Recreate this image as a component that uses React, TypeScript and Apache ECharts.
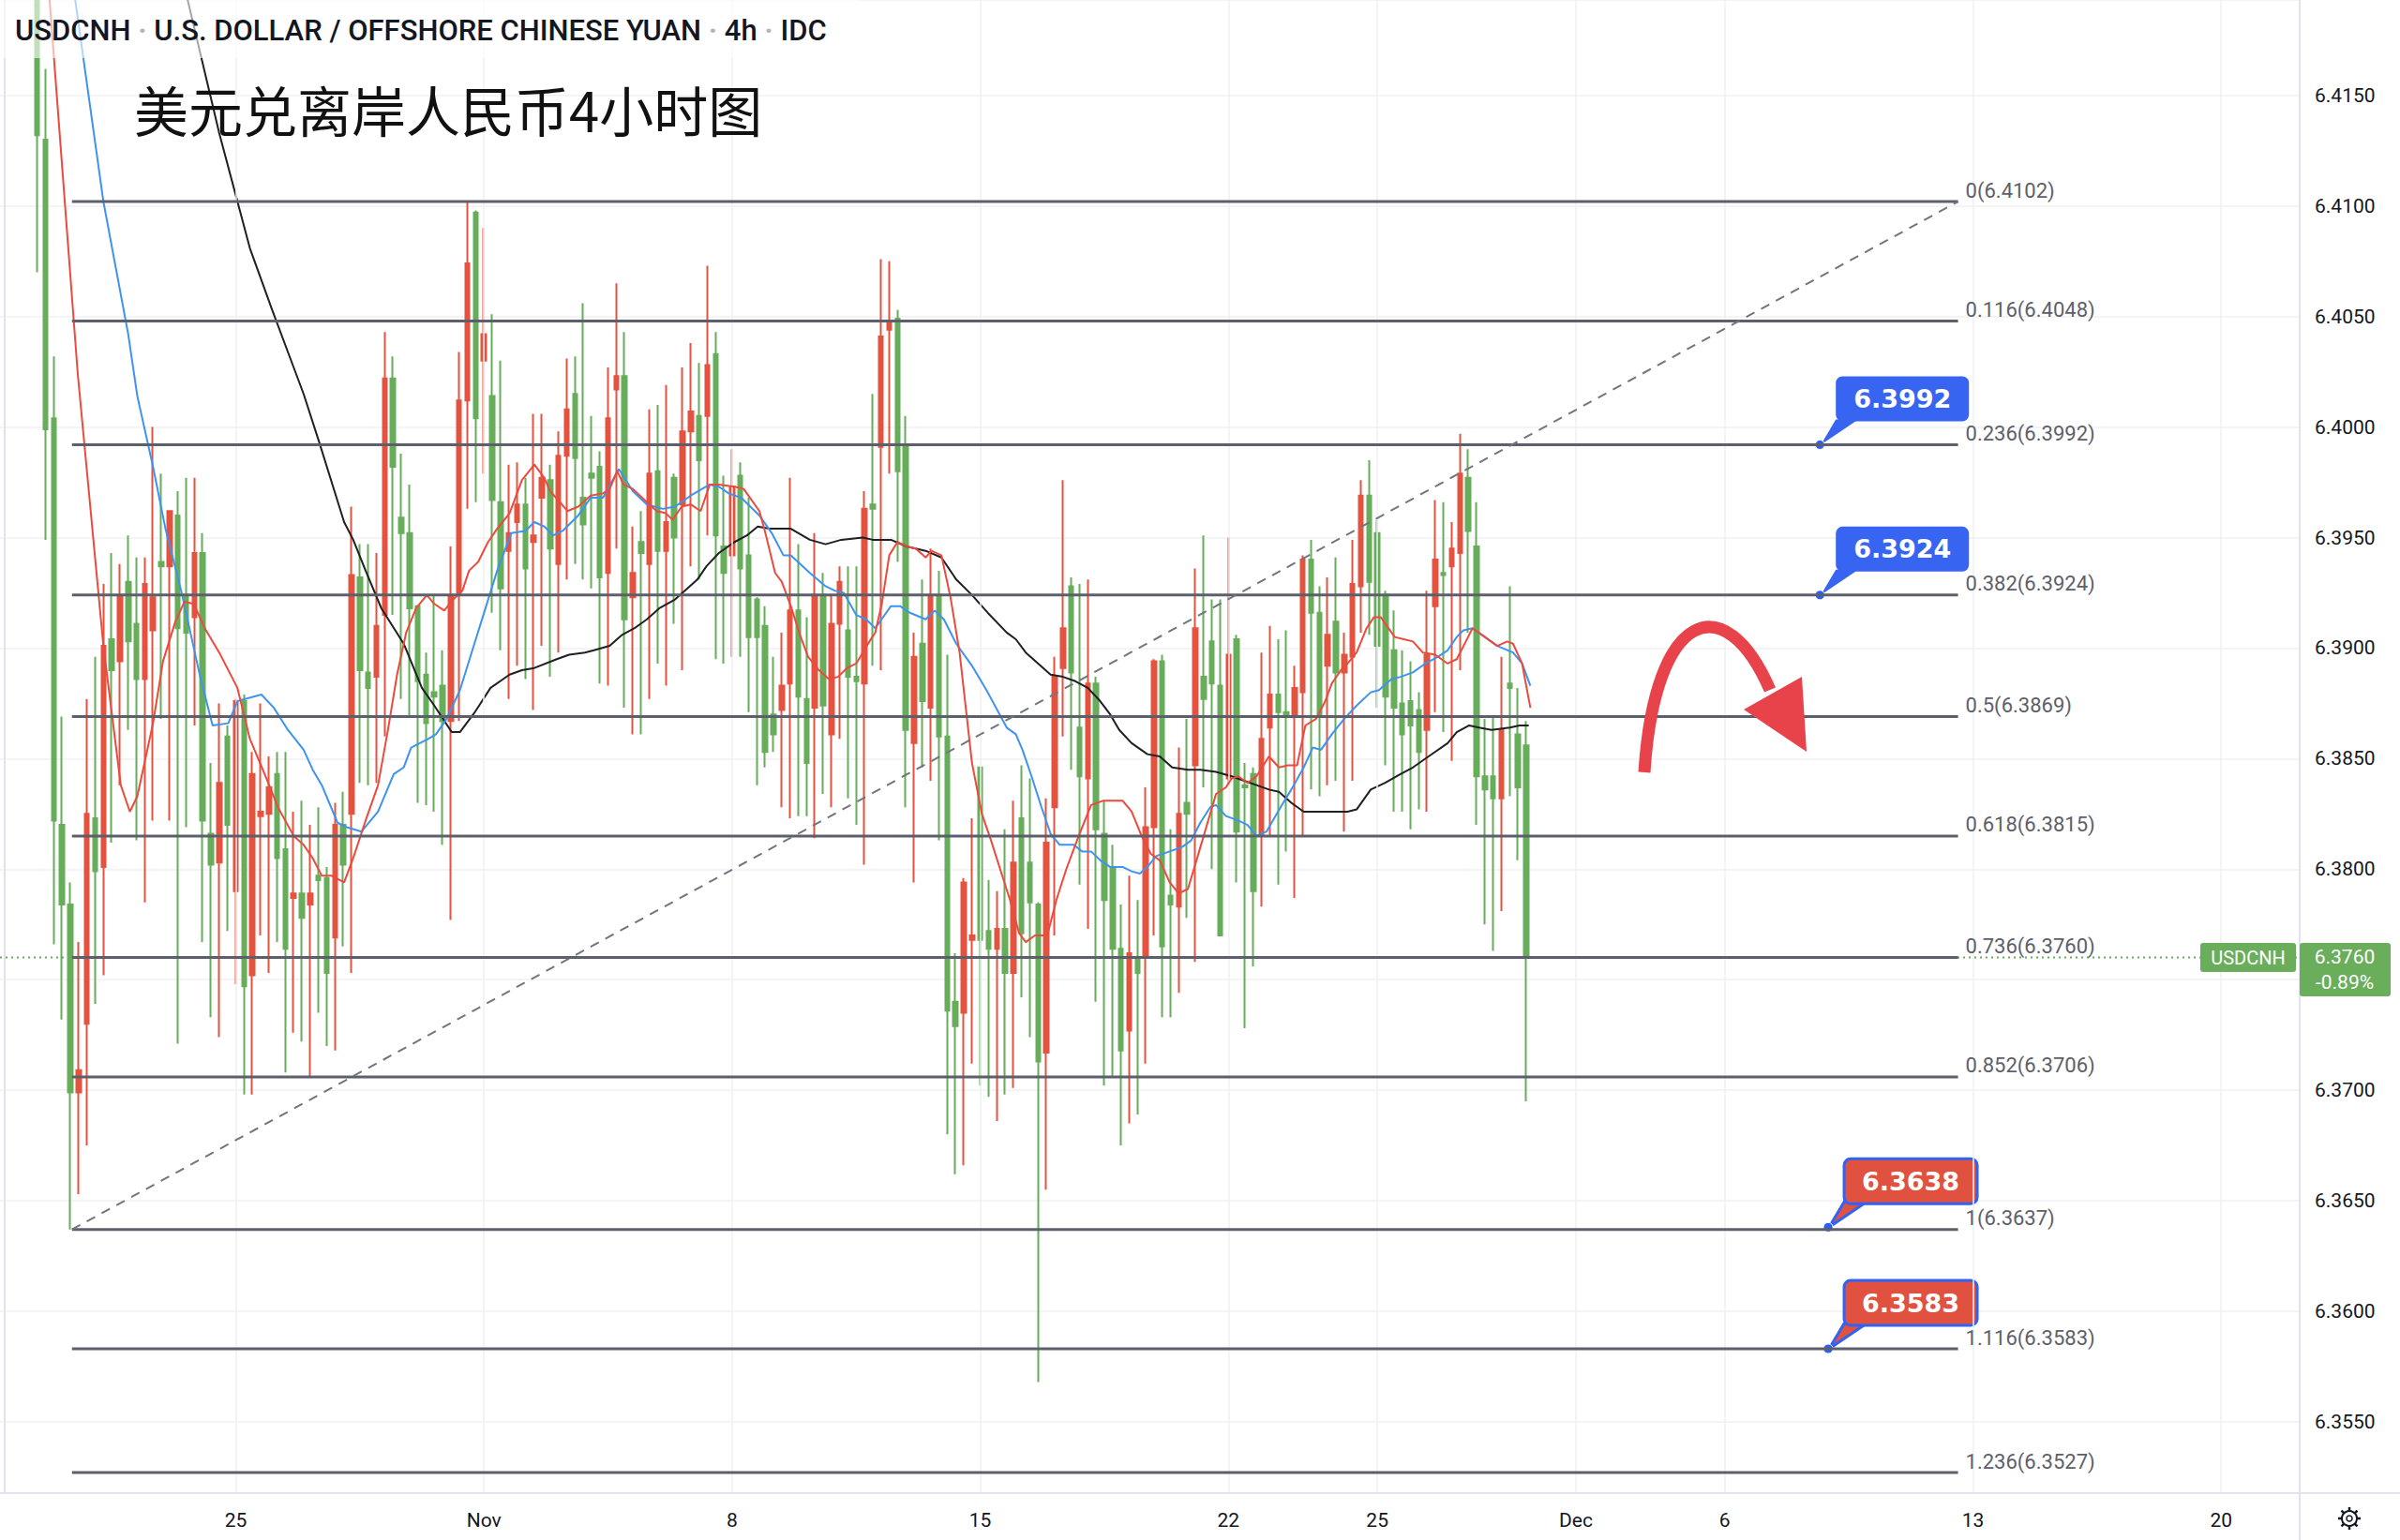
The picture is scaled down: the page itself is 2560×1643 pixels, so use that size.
import React, { useEffect, useRef } from 'react';
import * as echarts from 'echarts';

// ---- time axis: 4h trading bars, Mon-Fri ----
const BAR_COUNT = 278;
const SESSION_HOURS = ['00:00', '04:00', '08:00', '12:00', '16:00', '20:00'];
const FIRST_DAY = [2021, 9, 18]; // 2021-10-18 (Mon); the axis opens at its 08:00 bar
const FIRST_BAR = 4; // index of the first drawn candle

const dateLabels: Record<string, string> = {
  '2021-10-25 00:00': '25',
  '2021-11-01 00:00': 'Nov',
  '2021-11-08 00:00': '8',
  '2021-11-15 00:00': '15',
  '2021-11-22 00:00': '22',
  '2021-11-25 00:00': '25',
  '2021-12-01 00:00': 'Dec',
  '2021-12-06 00:00': '6',
  '2021-12-13 00:00': '13',
  '2021-12-20 00:00': '20',
};

// ---- USDCNH 4h candles: [open, close, low, high] ----
const bars: number[][] = [
  [6.4240, 6.4132, 6.4070, 6.4255], [6.4130, 6.3999, 6.3949, 6.4162], [6.4004, 6.3822, 6.3766, 6.4032],
  [6.3820, 6.3784, 6.3732, 6.3869], [6.3784, 6.3699, 6.3637, 6.3794], [6.3699, 6.3709, 6.3653, 6.3767],
  [6.3730, 6.3825, 6.3675, 6.3877], [6.3823, 6.3799, 6.3739, 6.3896], [6.3801, 6.3901, 6.3752, 6.3929],
  [6.3904, 6.3890, 6.3812, 6.3943], [6.3894, 6.3924, 6.3838, 6.3938], [6.3930, 6.3903, 6.3863, 6.3951],
  [6.3911, 6.3886, 6.3813, 6.3941], [6.3886, 6.3929, 6.3785, 6.3941], [6.3908, 6.3923, 6.3822, 6.4000],
  [6.3939, 6.3937, 6.3868, 6.3979], [6.3937, 6.3962, 6.3822, 6.3962], [6.3960, 6.3909, 6.3721, 6.3971],
  [6.3924, 6.3907, 6.3819, 6.3977], [6.3914, 6.3943, 6.3865, 6.3977], [6.3943, 6.3822, 6.3767, 6.3952],
  [6.3816, 6.3802, 6.3733, 6.3848], [6.3803, 6.3839, 6.3724, 6.3875], [6.3860, 6.3820, 6.3772, 6.3865],
  [6.3790, 6.3876, 6.3748, 6.3877], [6.3876, 6.3747, 6.3698, 6.3879], [6.3752, 6.3843, 6.3698, 6.3853],
  [6.3824, 6.3826, 6.3770, 6.3875], [6.3825, 6.3837, 6.3753, 6.3851], [6.3843, 6.3805, 6.3767, 6.3853],
  [6.3809, 6.3764, 6.3708, 6.3853], [6.3787, 6.3789, 6.3726, 6.3826], [6.3789, 6.3778, 6.3722, 6.3831],
  [6.3784, 6.3789, 6.3706, 6.3820], [6.3797, 6.3795, 6.3735, 6.3828], [6.3796, 6.3753, 6.3720, 6.3801],
  [6.3769, 6.3820, 6.3718, 6.3830], [6.3820, 6.3802, 6.3765, 6.3835], [6.3825, 6.3933, 6.3753, 6.3964],
  [6.3932, 6.3890, 6.3839, 6.3947], [6.3889, 6.3882, 6.3838, 6.3947], [6.3887, 6.3910, 6.3839, 6.3943],
  [6.3915, 6.4022, 6.3860, 6.4043], [6.4022, 6.3982, 6.3915, 6.4032], [6.3959, 6.3952, 6.3877, 6.3988],
  [6.3952, 6.3918, 6.3869, 6.3974], [6.3919, 6.3885, 6.3830, 6.3919], [6.3888, 6.3866, 6.3829, 6.3898],
  [6.3880, 6.3878, 6.3826, 6.3924], [6.3883, 6.3867, 6.3811, 6.3899], [6.3867, 6.3924, 6.3777, 6.3946],
  [6.3924, 6.4012, 6.3867, 6.4034], [6.4012, 6.4074, 6.3963, 6.4102], [6.4097, 6.4004, 6.3966, 6.4098],
  [6.4030, 6.4042, 6.3979, 6.4090], [6.4014, 6.3967, 6.3916, 6.4051], [6.3966, 6.3927, 6.3899, 6.4030],
  [6.3944, 6.3952, 6.3877, 6.3983], [6.3957, 6.3965, 6.3892, 6.3984], [6.3965, 6.3936, 6.3886, 6.3977],
  [6.3948, 6.3951, 6.3872, 6.4006], [6.3968, 6.3977, 6.3901, 6.4006], [6.3976, 6.3945, 6.3887, 6.3983],
  [6.3938, 6.3987, 6.3898, 6.3998], [6.3987, 6.4008, 6.3931, 6.4031], [6.4015, 6.3986, 6.3938, 6.4032],
  [6.3968, 6.3956, 6.3931, 6.4056], [6.3979, 6.3977, 6.3927, 6.4005], [6.3982, 6.3932, 6.3884, 6.3989],
  [6.3934, 6.4004, 6.3883, 6.4027], [6.4017, 6.4023, 6.3945, 6.4065], [6.4023, 6.3913, 6.3873, 6.4043],
  [6.3923, 6.3934, 6.3861, 6.3955], [6.3948, 6.3943, 6.3861, 6.3962], [6.3938, 6.3979, 6.3877, 6.4008],
  [6.3980, 6.3944, 6.3893, 6.4010], [6.3944, 6.3957, 6.3883, 6.4019], [6.3977, 6.3950, 6.3911, 6.3979],
  [6.3965, 6.3998, 6.3890, 6.4027], [6.3998, 6.4007, 6.3937, 6.4038], [6.4005, 6.3985, 6.3931, 6.4029],
  [6.4005, 6.4028, 6.3951, 6.4073], [6.4033, 6.3951, 6.3895, 6.4043], [6.3946, 6.3934, 6.3893, 6.3978],
  [6.3942, 6.3973, 6.3896, 6.3990], [6.3978, 6.3936, 6.3896, 6.3984], [6.3942, 6.3905, 6.3871, 6.3968],
  [6.3922, 6.3905, 6.3838, 6.3923], [6.3910, 6.3853, 6.3846, 6.3919], [6.3870, 6.3861, 6.3853, 6.3896],
  [6.3872, 6.3883, 6.3828, 6.3907], [6.3884, 6.3917, 6.3823, 6.3977], [6.3917, 6.3878, 6.3824, 6.3947],
  [6.3877, 6.3848, 6.3824, 6.3914], [6.3873, 6.3924, 6.3814, 6.3952], [6.3924, 6.3874, 6.3834, 6.3934],
  [6.3861, 6.3911, 6.3828, 6.3924], [6.3911, 6.3930, 6.3859, 6.3937], [6.3908, 6.3887, 6.3832, 6.3937],
  [6.3887, 6.3885, 6.3820, 6.3937], [6.3884, 6.3963, 6.3802, 6.3971], [6.3965, 6.3963, 6.3892, 6.4015],
  [6.3991, 6.4041, 6.3890, 6.4076], [6.4044, 6.4048, 6.3979, 6.4075], [6.4049, 6.3980, 6.3939, 6.4053],
  [6.3992, 6.3863, 6.3828, 6.4005], [6.3857, 6.3896, 6.3794, 6.3907], [6.3902, 6.3876, 6.3846, 6.3931],
  [6.3873, 6.3924, 6.3840, 6.3945], [6.3924, 6.3860, 6.3813, 6.3935], [6.3860, 6.3736, 6.3680, 6.3897],
  [6.3740, 6.3729, 6.3662, 6.3762], [6.3735, 6.3794, 6.3666, 6.3796], [6.3768, 6.3770, 6.3712, 6.3823],
  [6.3846, 6.3768, 6.3702, 6.3846], [6.3772, 6.3764, 6.3697, 6.3795], [6.3764, 6.3773, 6.3686, 6.3790],
  [6.3773, 6.3753, 6.3698, 6.3818], [6.3753, 6.3803, 6.3701, 6.3831], [6.3823, 6.3771, 6.3742, 6.3847],
  [6.3803, 6.3785, 6.3724, 6.3841], [6.3784, 6.3713, 6.3568, 6.3785], [6.3717, 6.3812, 6.3655, 6.3832],
  [6.3828, 6.3887, 6.3770, 6.3896], [6.3891, 6.3909, 6.3860, 6.3976], [6.3928, 6.3889, 6.3845, 6.3932],
  [6.3864, 6.3842, 6.3793, 6.3929], [6.3841, 6.3884, 6.3773, 6.3931], [6.3884, 6.3818, 6.3740, 6.3887],
  [6.3816, 6.3786, 6.3702, 6.3831], [6.3801, 6.3764, 6.3706, 6.3811], [6.3764, 6.3718, 6.3675, 6.3784],
  [6.3727, 6.3762, 6.3685, 6.3797], [6.3759, 6.3753, 6.3689, 6.3786], [6.3760, 6.3819, 6.3712, 6.3837],
  [6.3819, 6.3894, 6.3770, 6.3895], [6.3894, 6.3765, 6.3733, 6.3897], [6.3788, 6.3784, 6.3733, 6.3818],
  [6.3783, 6.3825, 6.3744, 6.3855], [6.3830, 6.3825, 6.3778, 6.3868], [6.3847, 6.3909, 6.3758, 6.3936],
  [6.3887, 6.3877, 6.3837, 6.3951], [6.3903, 6.3884, 6.3800, 6.3922], [6.3883, 6.3770, 6.3770, 6.3922],
  [6.3841, 6.3897, 6.3838, 6.3950], [6.3904, 6.3817, 6.3794, 6.3906], [6.3838, 6.3837, 6.3728, 6.3848],
  [6.3843, 6.3790, 6.3756, 6.3846], [6.3815, 6.3859, 6.3783, 6.3898], [6.3864, 6.3879, 6.3815, 6.3910],
  [6.3879, 6.3871, 6.3793, 6.3904], [6.3871, 6.3869, 6.3808, 6.3908], [6.3869, 6.3882, 6.3787, 6.3892],
  [6.3880, 6.3940, 6.3815, 6.3942], [6.3940, 6.3916, 6.3836, 6.3949], [6.3916, 6.3869, 6.3833, 6.3928],
  [6.3892, 6.3906, 6.3838, 6.3932], [6.3912, 6.3889, 6.3840, 6.3941], [6.3889, 6.3897, 6.3817, 6.3907],
  [6.3896, 6.3929, 6.3840, 6.3949], [6.3928, 6.3969, 6.3907, 6.3976], [6.3969, 6.3930, 6.3906, 6.3985],
  [6.3952, 6.3901, 6.3873, 6.3958], [6.3924, 6.3878, 6.3847, 6.3926], [6.3899, 6.3873, 6.3826, 6.3917],
  [6.3875, 6.3861, 6.3826, 6.3899], [6.3876, 6.3865, 6.3818, 6.3894], [6.3872, 6.3853, 6.3827, 6.3880],
  [6.3863, 6.3897, 6.3826, 6.3926], [6.3919, 6.3940, 6.3871, 6.3967], [6.3934, 6.3933, 6.3862, 6.3966],
  [6.3937, 6.3945, 6.3849, 6.3957], [6.3943, 6.3979, 6.3890, 6.3997], [6.3977, 6.3953, 6.3907, 6.3990],
  [6.3946, 6.3842, 6.3820, 6.3966], [6.3842, 6.3836, 6.3775, 6.3868], [6.3842, 6.3832, 6.3763, 6.3869],
  [6.3832, 6.3863, 6.3781, 6.3896], [6.3884, 6.3882, 6.3833, 6.3928], [6.3861, 6.3837, 6.3804, 6.3882],
  [6.3856, 6.3760, 6.3695, 6.3867],
];

// ---- moving averages: [bar position, value] ----
const maFast: number[][] = [
  [4.5, 6.4243], [5.5, 6.4193], [8.9, 6.4024], [12.0, 6.3901], [14.1, 6.3838], [15.2, 6.3826], [16.1, 6.3833],
  [18.0, 6.3866], [19.2, 6.3894], [20.7, 6.3912], [21.8, 6.3921], [22.9, 6.3920], [24.4, 6.3908], [26.0, 6.3898],
  [28.2, 6.3882], [29.7, 6.3859], [31.6, 6.3842], [33.1, 6.3828], [35.0, 6.3815], [36.2, 6.3811], [37.3, 6.3805],
  [38.4, 6.3797], [39.6, 6.3797], [41.1, 6.3794], [42.2, 6.3805], [43.7, 6.3822], [45.2, 6.3838], [46.4, 6.3863],
  [47.5, 6.3888], [48.6, 6.3907], [49.8, 6.3918], [51.1, 6.3924], [52.0, 6.3920], [53.2, 6.3917], [54.3, 6.3922],
  [55.4, 6.3926], [56.2, 6.3935], [57.3, 6.3939], [58.5, 6.3948], [59.6, 6.3954], [61.1, 6.3961], [62.6, 6.3976],
  [64.1, 6.3983], [65.3, 6.3977], [66.0, 6.3971], [67.2, 6.3966], [68.1, 6.3962], [69.4, 6.3964], [70.9, 6.3969],
  [72.4, 6.3970], [73.2, 6.3972], [74.1, 6.3980], [74.9, 6.3974], [76.0, 6.3972], [77.7, 6.3966], [78.9, 6.3962],
  [80.0, 6.3961], [80.8, 6.3958], [81.9, 6.3964], [83.0, 6.3965], [84.2, 6.3962], [85.3, 6.3974], [86.4, 6.3974],
  [88.3, 6.3973], [89.4, 6.3972], [91.3, 6.3962], [92.1, 6.3951], [93.2, 6.3934], [94.0, 6.3930], [95.1, 6.3919],
  [96.2, 6.3906], [97.2, 6.3896], [98.5, 6.3890], [99.7, 6.3886], [100.8, 6.3887], [101.9, 6.3891], [103.0, 6.3893],
  [103.8, 6.3898], [104.6, 6.3903], [105.3, 6.3907], [106.1, 6.3920], [107.0, 6.3942], [108.0, 6.3948],
  [109.1, 6.3946], [110.2, 6.3945], [111.4, 6.3941], [112.1, 6.3944], [113.3, 6.3942], [114.4, 6.3923],
  [115.5, 6.3898], [117.0, 6.3848], [118.2, 6.3825], [119.3, 6.3813], [120.4, 6.3800], [121.6, 6.3786],
  [122.7, 6.3771], [123.5, 6.3767], [124.6, 6.3770], [126.1, 6.3770], [127.2, 6.3786], [128.4, 6.3800],
  [129.9, 6.3815], [131.4, 6.3829], [132.9, 6.3831], [134.0, 6.3831], [135.2, 6.3831], [136.3, 6.3826],
  [137.5, 6.3815], [138.6, 6.3807], [139.7, 6.3804], [140.9, 6.3794], [142.0, 6.3789], [143.1, 6.3791],
  [144.3, 6.3806], [145.4, 6.3820], [146.5, 6.3834], [147.7, 6.3837], [148.4, 6.3841], [149.2, 6.3842],
  [150.3, 6.3839], [151.4, 6.3842], [152.9, 6.3851], [154.1, 6.3846], [155.2, 6.3847], [156.3, 6.3847],
  [157.3, 6.3865], [158.6, 6.3868], [159.7, 6.3876], [160.5, 6.3884], [161.6, 6.3890], [162.4, 6.3893],
  [163.5, 6.3898], [164.7, 6.3909], [165.6, 6.3914], [166.4, 6.3914], [168.1, 6.3905], [169.2, 6.3904],
  [170.3, 6.3903], [171.5, 6.3898], [173.0, 6.3897], [174.5, 6.3893], [175.6, 6.3895], [176.7, 6.3903],
  [177.5, 6.3909], [179.0, 6.3905], [180.5, 6.3901], [181.7, 6.3903], [182.4, 6.3902], [183.5, 6.3893],
  [184.5, 6.3873],
];

const maMid: number[][] = [
  [7.6, 6.4220], [8.6, 6.4193], [12.0, 6.4102], [15.0, 6.4042], [16.1, 6.4014], [18.0, 6.3982], [19.5, 6.3954],
  [21.4, 6.3926], [23.7, 6.3887], [25.2, 6.3865], [27.1, 6.3866], [28.2, 6.3876], [31.1, 6.3879], [32.6, 6.3873],
  [34.3, 6.3863], [36.2, 6.3854], [37.3, 6.3845], [38.4, 6.3838], [40.3, 6.3821], [41.4, 6.3819], [43.2, 6.3817],
  [45.2, 6.3826], [47.1, 6.3843], [48.3, 6.3846], [49.2, 6.3855], [51.3, 6.3859], [52.2, 6.3861], [53.5, 6.3868],
  [55.1, 6.3881], [56.6, 6.3899], [58.1, 6.3917], [59.6, 6.3935], [61.3, 6.3952], [63.0, 6.3953], [64.1, 6.3957],
  [65.3, 6.3955], [66.4, 6.3951], [67.5, 6.3953], [69.4, 6.3960], [70.9, 6.3968], [72.4, 6.3968], [74.3, 6.3981],
  [76.0, 6.3971], [77.7, 6.3965], [79.6, 6.3963], [81.1, 6.3964], [83.0, 6.3969], [85.3, 6.3974], [86.4, 6.3973],
  [87.6, 6.3970], [89.1, 6.3968], [91.3, 6.3960], [92.8, 6.3952], [94.2, 6.3942], [95.1, 6.3942], [97.4, 6.3934],
  [99.3, 6.3928], [100.4, 6.3926], [101.5, 6.3925], [103.0, 6.3915], [104.2, 6.3913], [105.3, 6.3909],
  [107.2, 6.3919], [108.3, 6.3919], [109.5, 6.3916], [111.4, 6.3913], [112.5, 6.3917], [113.6, 6.3913],
  [115.1, 6.3902], [117.0, 6.3892], [118.9, 6.3880], [121.2, 6.3864], [122.3, 6.3861], [123.1, 6.3854],
  [124.2, 6.3842], [125.4, 6.3828], [126.5, 6.3816], [127.6, 6.3811], [129.3, 6.3811], [130.3, 6.3808],
  [131.4, 6.3808], [132.5, 6.3804], [133.7, 6.3801], [135.2, 6.3801], [136.3, 6.3799], [137.3, 6.3798],
  [138.2, 6.3801], [139.3, 6.3806], [140.9, 6.3808], [142.4, 6.3810], [143.5, 6.3813], [144.6, 6.3821],
  [145.8, 6.3828], [146.5, 6.3829], [147.7, 6.3824], [149.2, 6.3822], [150.3, 6.3820], [151.4, 6.3815],
  [152.6, 6.3817], [154.3, 6.3828], [155.6, 6.3836], [157.1, 6.3846], [158.2, 6.3855], [159.2, 6.3854],
  [160.5, 6.3861], [162.0, 6.3868], [163.5, 6.3874], [165.2, 6.3880], [166.2, 6.3881], [167.7, 6.3886],
  [168.8, 6.3887], [170.3, 6.3889], [171.8, 6.3893], [173.3, 6.3896], [174.5, 6.3899], [175.6, 6.3905],
  [176.4, 6.3908], [177.5, 6.3909], [179.0, 6.3905], [180.5, 6.3901], [182.4, 6.3898], [183.5, 6.3893],
  [184.5, 6.3883],
];

const maSlow: number[][] = [
  [20.2, 6.4225], [22.2, 6.4193], [26.0, 6.4133], [29.7, 6.4081], [32.4, 6.4053], [34.6, 6.4031], [36.2, 6.4015],
  [38.1, 6.3993], [41.1, 6.3957], [42.2, 6.3949], [43.7, 6.3935], [45.6, 6.3918], [48.3, 6.3902], [50.5, 6.3882],
  [52.0, 6.3874], [54.1, 6.3862], [55.1, 6.3862], [56.9, 6.3871], [58.8, 6.3882], [61.1, 6.3888], [62.6, 6.3890],
  [64.1, 6.3891], [66.8, 6.3895], [68.3, 6.3897], [70.2, 6.3898], [71.3, 6.3899], [73.2, 6.3901], [74.7, 6.3906],
  [76.2, 6.3909], [77.7, 6.3913], [79.2, 6.3918], [81.1, 6.3922], [82.6, 6.3927], [83.8, 6.3931], [84.9, 6.3937],
  [86.4, 6.3943], [88.3, 6.3948], [89.8, 6.3951], [91.1, 6.3955], [92.5, 6.3954], [95.1, 6.3954], [97.4, 6.3949],
  [99.3, 6.3947], [101.2, 6.3949], [103.8, 6.3950], [105.0, 6.3949], [107.2, 6.3949], [109.1, 6.3946],
  [111.4, 6.3944], [113.3, 6.3941], [115.1, 6.3931], [117.0, 6.3924], [118.9, 6.3916], [121.2, 6.3907],
  [122.3, 6.3904], [123.5, 6.3898], [125.0, 6.3893], [126.5, 6.3888], [128.0, 6.3887], [129.5, 6.3885],
  [131.0, 6.3882], [132.5, 6.3876], [133.7, 6.3870], [134.8, 6.3863], [136.3, 6.3857], [138.2, 6.3852],
  [139.7, 6.3851], [141.2, 6.3846], [143.1, 6.3845], [144.6, 6.3845], [146.5, 6.3844], [148.4, 6.3842],
  [149.9, 6.3840], [151.4, 6.3838], [152.9, 6.3836], [154.1, 6.3835], [155.6, 6.3830], [157.1, 6.3826],
  [158.6, 6.3826], [161.3, 6.3826], [162.4, 6.3826], [163.5, 6.3827], [165.2, 6.3836], [166.9, 6.3839],
  [168.8, 6.3843], [170.3, 6.3846], [172.2, 6.3851], [174.5, 6.3857], [175.6, 6.3862], [177.1, 6.3865],
  [178.3, 6.3864], [179.8, 6.3863], [182.0, 6.3864], [183.2, 6.3865], [184.3, 6.3865],
];

// ---- Fibonacci retracement (swing low 6.3637 -> swing high 6.4102) ----
const fibRatios = ['0', '0.116', '0.236', '0.382', '0.5', '0.618', '0.736', '0.852', '1', '1.116', '1.236'];
const fibValues = [6.4102, 6.4048, 6.3992, 6.3924, 6.3869, 6.3815, 6.3760, 6.3706, 6.3637, 6.3583, 6.3527];
const fibSpan = [8.2, 236.2]; // bar positions of the two anchors
const fibTrend = [6.3637, 6.4102];

// ---- price tags ----
const blueTags = [6.3992, 6.3924];
const redTags = [6.3638, 6.3583];
const blueTagBar = 219.5;
const redTagBar = 220.5;
const dayChange = '-0.89%';

// ---- axis range ----
const Y_MIN = 6.35177;
const Y_MAX = 6.41932;

const UP = '#e4533f';
const DOWN = '#67ad5b';
const FONT = 'Roboto, "Noto Sans", sans-serif';
const GRID_RIGHT = 107;
const GRID_BOTTOM = 50;

function buildCategories(): string[] {
  const out: string[] = [];
  const d = new Date(Date.UTC(FIRST_DAY[0], FIRST_DAY[1], FIRST_DAY[2]));
  while (out.length < BAR_COUNT + 2) {
    const dow = d.getUTCDay();
    if (dow !== 0 && dow !== 6) {
      const ds = d.toISOString().slice(0, 10);
      for (const h of SESSION_HOURS) out.push(`${ds} ${h}`);
    }
    d.setUTCDate(d.getUTCDate() + 1);
  }
  return out.slice(2, BAR_COUNT + 2);
}

function buildOption(categories: string[]) {
  const candleData: any[] = [];
  for (let i = 0; i < FIRST_BAR; i++) candleData.push(['-', '-', '-', '-']);
  bars.forEach((b) => candleData.push(b));
  const lastClose = bars[bars.length - 1][1];

  const gridMarks = Object.keys(dateLabels).map((k) => ({ xAxis: categories.indexOf(k) }));

  const maSeries = [
    { name: 'maSlow', data: maSlow, color: '#1f1f24' },
    { name: 'maMid', data: maMid, color: '#3d93f0' },
    { name: 'maFast', data: maFast, color: '#ec4a3c' },
  ].map((m, k) => ({
    name: m.name,
    type: 'line',
    xAxisIndex: 1,
    yAxisIndex: 0,
    data: m.data,
    showSymbol: false,
    silent: true,
    z: 4 + k,
    lineStyle: { color: m.color, width: 2 },
  }));

  const fibSeries = fibValues.map((v, k) => ({
    name: `fib${fibRatios[k]}`,
    type: 'line',
    xAxisIndex: 1,
    yAxisIndex: 0,
    data: [[fibSpan[0], v], [fibSpan[1], v]],
    showSymbol: false,
    silent: true,
    z: 8,
    lineStyle: { color: '#5d606b', width: 3 },
    endLabel: {
      show: true,
      formatter: `${fibRatios[k]}(${v.toFixed(4)})`,
      color: '#5d606b',
      fontFamily: FONT,
      fontSize: 22,
      distance: 8,
      offset: [0, -12],
    },
  }));

  return {
    animation: false,
    backgroundColor: '#ffffff',
    textStyle: { fontFamily: FONT },
    grid: { left: 0, right: GRID_RIGHT, top: 0, bottom: GRID_BOTTOM, containLabel: false },
    xAxis: [
      {
        type: 'category',
        data: categories,
        boundaryGap: true,
        axisLine: { show: true, lineStyle: { color: '#e0e3eb', width: 2 } },
        axisTick: { show: false },
        splitLine: { show: false },
        axisLabel: {
          interval: (_i: number, v: string) => v in dateLabels,
          formatter: (v: string) => dateLabels[v] ?? '',
          color: '#131722',
          fontFamily: FONT,
          fontSize: 21,
          margin: 18,
        },
      },
      { type: 'value', min: -0.5, max: BAR_COUNT - 0.5, show: false, splitLine: { show: false } },
    ],
    yAxis: {
      type: 'value',
      position: 'right',
      min: Y_MIN,
      max: Y_MAX,
      splitNumber: 13,
      minInterval: 0.005,
      maxInterval: 0.005,
      axisLine: { show: true, lineStyle: { color: '#e0e3eb', width: 2 } },
      axisTick: { show: false },
      splitLine: { show: true, lineStyle: { color: '#f0f1f4', width: 1.5 } },
      axisLabel: {
        showMinLabel: false,
        showMaxLabel: false,
        formatter: (v: number) => v.toFixed(4),
        color: '#131722',
        fontFamily: FONT,
        fontSize: 21,
        margin: 16,
      },
    },
    series: [
      {
        name: 'timeGrid',
        type: 'line',
        data: [],
        silent: true,
        z: 0,
        markLine: {
          silent: true,
          symbol: 'none',
          label: { show: false },
          lineStyle: { color: '#f0f1f4', width: 1.5, type: 'solid' },
          data: gridMarks,
        },
      },
      {
        // last-price guide line across the whole pane
        name: 'lastPrice',
        type: 'line',
        xAxisIndex: 1,
        yAxisIndex: 0,
        data: [[-0.5, lastClose], [BAR_COUNT - 0.5, lastClose]],
        showSymbol: false,
        silent: true,
        z: 2,
        lineStyle: { color: DOWN, width: 2, type: [2, 4] },
      },
      {
        name: 'USDCNH',
        type: 'candlestick',
        data: candleData,
        barWidth: 5,
        z: 3,
        itemStyle: { color: UP, color0: DOWN, borderColor: UP, borderColor0: DOWN, borderWidth: 2 },
      },
      ...maSeries,
      ...fibSeries,
      {
        name: 'fibTrend',
        type: 'line',
        xAxisIndex: 1,
        yAxisIndex: 0,
        data: [[fibSpan[0], fibTrend[0]], [fibSpan[1], fibTrend[1]]],
        showSymbol: false,
        silent: true,
        z: 9,
        lineStyle: { color: '#72757f', width: 2, type: [10, 8] },
      },
    ],
  };
}

function tagGraphic(id: string, x: number, y: number, text: string, fill: string, outline: string | null) {
  const stroke = outline ? { stroke: outline, lineWidth: 3 } : {};
  return {
    type: 'group',
    id,
    z: 50,
    children: [
      {
        type: 'polygon',
        shape: { points: [[x + 17, y - 27], [x + 41, y - 27], [x + 1, y]] },
        style: { fill, ...stroke, lineJoin: 'round' },
      },
      {
        type: 'rect',
        shape: { x: x + 17, y: y - 73, width: 142, height: 48, r: 7 },
        style: { fill, ...stroke },
      },
      {
        type: 'text',
        x: x + 88,
        y: y - 49,
        style: {
          text,
          fill: '#ffffff',
          font: 'bold 27px "DejaVu Sans", sans-serif',
          align: 'center',
          verticalAlign: 'middle',
        },
      },
      {
        type: 'circle',
        shape: { cx: x, cy: y, r: 5 },
        style: { fill: '#2f5cf2', stroke: '#ffffff', lineWidth: 1 },
      },
    ],
  };
}

function buildOverlay(chart: echarts.ECharts) {
  const px = (pos: number) => chart.convertToPixel({ xAxisIndex: 1 }, pos) as number;
  const py = (v: number) => chart.convertToPixel({ yAxisIndex: 0 }, v) as number;
  const lastClose = bars[bars.length - 1][1];
  const priceY = py(lastClose);
  const W = 2560;
  const H = 1643;
  const axisX = W - GRID_RIGHT;
  const axisY = H - GRID_BOTTOM;

  const spoke = (deg: number) => {
    const a = (deg * Math.PI) / 180;
    return {
      type: 'line',
      shape: { x1: Math.cos(a) * 8, y1: Math.sin(a) * 8, x2: Math.cos(a) * 12, y2: Math.sin(a) * 12 },
      style: { stroke: '#131722', lineWidth: 2.5 },
    };
  };

  const elements: any[] = [
    // header strip
    {
      type: 'rect',
      shape: { x: 0, y: 0, width: 915, height: 62 },
      style: { fill: 'rgba(255,255,255,0.6)' },
      z: 40,
    },
    {
      type: 'text',
      x: 16,
      y: 32,
      z: 41,
      style: {
        text: '{m|USDCNH}{d| · }{m|U.S. DOLLAR / OFFSHORE CHINESE YUAN}{d| · }{m|4h}{d| · }{m|IDC}',
        verticalAlign: 'middle',
        rich: {
          m: { fill: '#131722', font: '500 31px Roboto, sans-serif' },
          d: { fill: '#b2b5be', font: 'bold 31px Roboto, sans-serif' },
        },
      },
    },
    {
      type: 'text',
      x: 143,
      y: 116,
      z: 41,
      style: {
        text: '美元兑离岸人民币4小时图',
        fill: '#111111',
        font: '58px "Noto Sans CJK SC", sans-serif',
        verticalAlign: 'middle',
      },
    },
    // curved red arrow
    {
      type: 'bezierCurve',
      z: 45,
      shape: { x1: 1754, y1: 824, cpx1: 1765, cpy1: 650, cpx2: 1840, cpy2: 625, x2: 1888, y2: 736 },
      style: { stroke: '#e8434a', lineWidth: 13, fill: 'none' },
    },
    {
      type: 'polygon',
      z: 45,
      shape: { points: [[1860, 757], [1922, 722], [1927, 802]] },
      style: { fill: '#e8434a' },
    },
    // last price labels
    {
      type: 'rect',
      z: 46,
      shape: { x: axisX - 106, y: priceY - 15.5, width: 102, height: 31, r: 3 },
      style: { fill: '#6aae5c' },
    },
    {
      type: 'text',
      z: 47,
      x: axisX - 55,
      y: priceY,
      style: { text: 'USDCNH', fill: '#ffffff', font: '20px Roboto, sans-serif', align: 'center', verticalAlign: 'middle' },
    },
    {
      type: 'rect',
      z: 46,
      shape: { x: axisX, y: priceY - 15.5, width: 97, height: 57, r: 3 },
      style: { fill: '#6aae5c' },
    },
    {
      type: 'text',
      z: 47,
      x: axisX + 48,
      y: priceY + 13,
      style: {
        text: `${lastClose.toFixed(4)}\n${dayChange}`,
        fill: '#ffffff',
        font: '21px Roboto, sans-serif',
        align: 'center',
        verticalAlign: 'middle',
        lineHeight: 27,
      },
    },
    // frame separators
    {
      type: 'line',
      z: 30,
      shape: { x1: 0, y1: axisY, x2: W, y2: axisY },
      style: { stroke: '#e0e3eb', lineWidth: 2 },
    },
    {
      type: 'line',
      z: 30,
      shape: { x1: axisX, y1: 0, x2: axisX, y2: H },
      style: { stroke: '#e0e3eb', lineWidth: 2 },
    },
    // settings gear
    {
      type: 'group',
      x: 2506,
      y: 1620,
      z: 30,
      children: [
        { type: 'circle', shape: { cx: 0, cy: 0, r: 8 }, style: { fill: 'none', stroke: '#131722', lineWidth: 2 } },
        { type: 'circle', shape: { cx: 0, cy: 0, r: 3 }, style: { fill: 'none', stroke: '#131722', lineWidth: 1.5 } },
        ...[0, 45, 90, 135, 180, 225, 270, 315].map(spoke),
      ],
    },
  ];

  blueTags.forEach((v, k) => {
    elements.push(tagGraphic(`blueTag${k}`, px(blueTagBar), py(v), v.toFixed(4), '#3864f2', null));
  });
  redTags.forEach((v, k) => {
    elements.push(tagGraphic(`redTag${k}`, px(redTagBar), py(v), v.toFixed(4), '#e0513f', '#2f62f5'));
  });
  return elements;
}

export default function App() {
  const ref = useRef<HTMLDivElement>(null);
  useEffect(() => {
    document.body.style.margin = '0';
    const chart = echarts.init(ref.current!, null, { renderer: 'svg' });
    const categories = buildCategories();
    chart.setOption(buildOption(categories) as any);
    chart.setOption({ graphic: buildOverlay(chart) } as any);
    return () => chart.dispose();
  }, []);
  return <div ref={ref} style={{ width: 2560, height: 1643 }} />;
}
